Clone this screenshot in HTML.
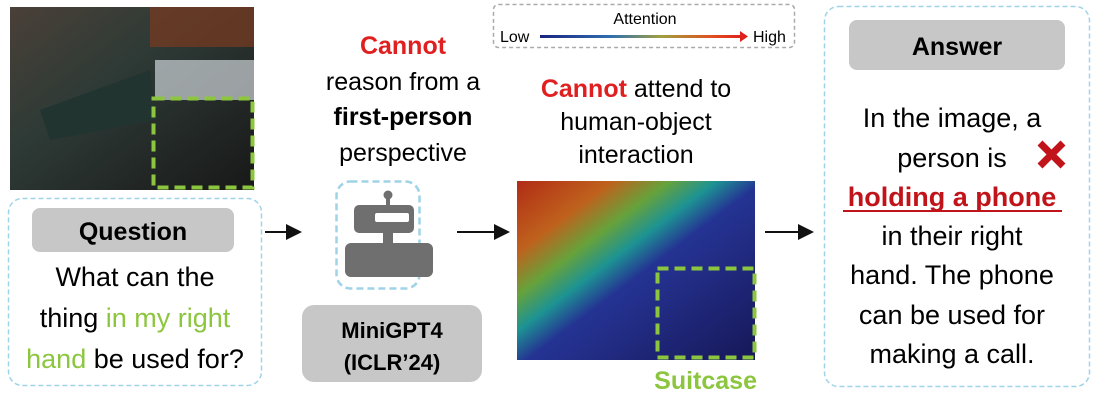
<!DOCTYPE html>
<html><head><meta charset="utf-8"><style>
body{margin:0;background:#fff;}
svg{display:block;font-family:"Liberation Sans",sans-serif;}
</style></head><body>
<svg width="1098" height="402" viewBox="0 0 1098 402" xmlns="http://www.w3.org/2000/svg">
<defs>
<linearGradient id="bar" x1="0" x2="1"><stop offset="0" stop-color="#1a237e"/><stop offset="0.35" stop-color="#2e6fb0"/><stop offset="0.6" stop-color="#a0a040"/><stop offset="0.85" stop-color="#e05020"/><stop offset="1" stop-color="#e0201a"/></linearGradient>
<linearGradient id="heat" x1="0" y1="0" x2="1" y2="1"><stop offset="0" stop-color="#c03018"/><stop offset="0.2" stop-color="#d06a20"/><stop offset="0.32" stop-color="#70b040"/><stop offset="0.42" stop-color="#20a0a0"/><stop offset="0.52" stop-color="#2838a0"/><stop offset="1" stop-color="#1a1a60"/></linearGradient>
<linearGradient id="photo" x1="0" y1="0" x2="1" y2="1"><stop offset="0" stop-color="#4a4038"/><stop offset="0.4" stop-color="#2e3a36"/><stop offset="1" stop-color="#181818"/></linearGradient>
<marker id="ar" markerWidth="8" markerHeight="8" refX="7" refY="4" orient="auto"><path d="M0,0 L8,4 L0,8 z" fill="#111"/></marker>
</defs>
<rect x="10" y="7" width="244" height="183" fill="url(#photo)"/>
<rect x="150" y="7" width="104" height="40" fill="#7a3a20" opacity="0.7"/>
<polygon points="40,110 150,70 155,120 50,140" fill="#223430"/>
<rect x="155" y="60" width="99" height="40" fill="#cfd4d8" opacity="0.7"/>
<rect x="153.5" y="98.5" width="99" height="89" fill="none" stroke="#8cc63f" stroke-width="4" stroke-dasharray="11,6"/>
<rect x="8.5" y="198.5" width="253" height="187" rx="14" fill="none" stroke="#9fd3e8" stroke-width="1.5" stroke-dasharray="5,3"/>
<rect x="32" y="208" width="202" height="44" rx="8" fill="#c7c7c7"/>
<text x="133" y="240" text-anchor="middle" font-size="25" font-weight="bold">Question</text>
<g font-size="27" text-anchor="middle">
<text x="135" y="286">What can the</text>
<text x="135" y="327">thing <tspan fill="#8cc63f">in my right</tspan></text>
<text x="135" y="368"><tspan fill="#8cc63f">hand</tspan> be used for?</text>
</g>
<line x1="265" y1="232" x2="300" y2="232" stroke="#111" stroke-width="2" marker-end="url(#ar)"/>
<line x1="457" y1="232" x2="508" y2="232" stroke="#111" stroke-width="2" marker-end="url(#ar)"/>
<line x1="765" y1="232" x2="812" y2="232" stroke="#111" stroke-width="2" marker-end="url(#ar)"/>
<rect x="336.5" y="181.5" width="83" height="107" rx="14" fill="none" stroke="#9fd3e8" stroke-width="2.5" stroke-dasharray="7,4"/>
<circle cx="388" cy="195" r="4.5" fill="#6f6f6f"/>
<rect x="386" y="195" width="4" height="10" fill="#6f6f6f"/>
<rect x="354" y="205" width="60" height="28" rx="5" fill="#6f6f6f"/>
<rect x="375" y="213" width="34" height="9" rx="2" fill="#fff"/>
<rect x="383" y="233" width="10" height="10" fill="#6f6f6f"/>
<rect x="345" y="243" width="88" height="34" rx="6" fill="#6f6f6f"/>
<rect x="302" y="305" width="180" height="77" rx="12" fill="#c7c7c7"/>
<text x="392" y="338" text-anchor="middle" font-size="22" font-weight="bold">MiniGPT4</text>
<text x="392" y="370" text-anchor="middle" font-size="22" font-weight="bold">(ICLR’24)</text>
<g font-size="25" text-anchor="middle">
<text x="403" y="54" fill="#e02020" font-weight="bold">Cannot</text>
<text x="403" y="90">reason from a</text>
<text x="403" y="125" font-weight="bold">first-person</text>
<text x="403" y="161">perspective</text>
<text x="636" y="97"><tspan fill="#e02020" font-weight="bold">Cannot</tspan> attend to</text>
<text x="636" y="130">human-object</text>
<text x="636" y="163">interaction</text>
</g>
<rect x="493.5" y="4.5" width="301" height="43" rx="5" fill="none" stroke="#aaa" stroke-width="1.5" stroke-dasharray="4,3"/>
<text x="645" y="24" text-anchor="middle" font-size="16">Attention</text>
<text x="500" y="42" font-size="16">Low</text>
<text x="753" y="42" font-size="16">High</text>
<rect x="540" y="35" width="202" height="3" fill="url(#bar)"/>
<path d="M740,31 L748,36.5 L740,42 z" fill="#e0201a"/>
<rect x="517" y="181" width="238" height="179" fill="url(#heat)"/>
<rect x="517" y="181" width="238" height="179" fill="#000" opacity="0.08"/>
<rect x="657.5" y="268.5" width="97" height="89" fill="none" stroke="#8cc63f" stroke-width="4" stroke-dasharray="11,6"/>
<text x="757" y="389" text-anchor="end" font-size="25" font-weight="bold" fill="#8cc63f">Suitcase</text>
<rect x="824.5" y="6.5" width="265" height="380" rx="14" fill="none" stroke="#9fd3e8" stroke-width="1.5" stroke-dasharray="5,3"/>
<rect x="849" y="20" width="216" height="50" rx="8" fill="#c7c7c7"/>
<text x="957" y="55" text-anchor="middle" font-size="25" font-weight="bold">Answer</text>
<g font-size="27" text-anchor="middle">
<text x="952" y="127">In the image, a</text>
<text x="952" y="167">person is</text>
<text x="952" y="206" fill="#c0141a" font-weight="bold">holding a phone</text>
<text x="952" y="245">in their right</text>
<text x="952" y="284">hand. The phone</text>
<text x="952" y="324">can be used for</text>
<text x="952" y="363">making a call.</text>
</g>
<line x1="843" y1="211" x2="1062" y2="211" stroke="#c0141a" stroke-width="2"/>
<path d="M1040,143 L1063,166 M1063,143 L1040,166" stroke="#c0141a" stroke-width="7"/>
</svg>
</body></html>
